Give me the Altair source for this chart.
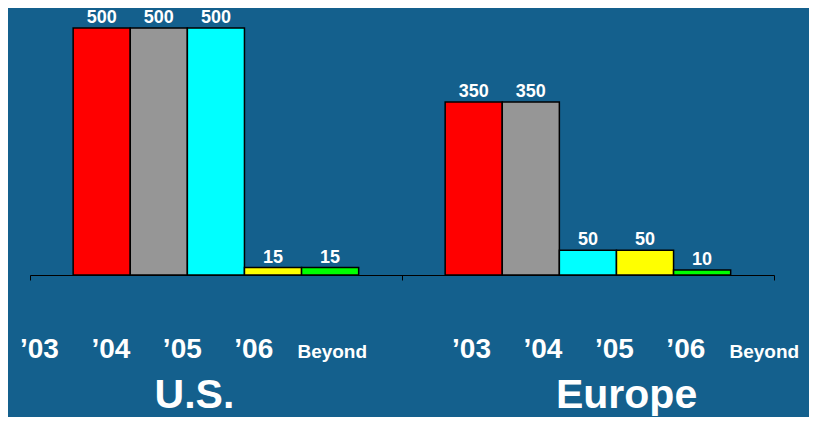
import altair as alt
import pandas as pd

# ---- data ----
regions = ["U.S.", "Europe"]
periods = ["\u201903", "\u201904", "\u201905", "\u201906", "Beyond"]
us_values = [500, 500, 500, 15, 15]
europe_values = [350, 350, 50, 50, 10]
bar_colors = ["#FF0000", "#969696", "#00FFFF", "#FFFF00", "#00FF00"]

# ---- layout constants (in units of one region group) ----
BAR_START = 0.116
BAR_STEP = 0.1535
LABEL_START = {"U.S.": 0.0255, "Europe": 0.187}
LABEL_STEP = 0.192
BEYOND_EXTRA = 0.019
TITLE_OFFSET = 0.4167

rows = []
for g, (region, vals) in enumerate(zip(regions, [us_values, europe_values])):
    for i, (p, v) in enumerate(zip(periods, vals)):
        x0 = g + BAR_START + i * BAR_STEP
        lx = g + LABEL_START[region] + i * LABEL_STEP + (BEYOND_EXTRA if p == "Beyond" else 0)
        rows.append({"region": region, "period": p, "value": v, "base": 0,
                     "x0": x0, "x1": x0 + BAR_STEP, "xc": x0 + BAR_STEP / 2,
                     "lx": lx})
df = pd.DataFrame(rows)

titles = pd.DataFrame({
    "region": regions,
    "tx": [g + LABEL_START[r] + TITLE_OFFSET for g, r in enumerate(regions)],
})

FONT = "Liberation Sans"

xscale = alt.Scale(domain=[0, 2], nice=False, zero=False)
yscale = alt.Scale(domain=[0, 500], nice=False)

bars = alt.Chart(df).mark_rect(stroke="black", strokeWidth=1.5).encode(
    x=alt.X("x0:Q", scale=xscale,
            axis=alt.Axis(values=[0, 1, 2], labels=False, title=None, grid=False,
                          domainColor="black", tickColor="black", tickSize=5,
                          domainWidth=1, tickWidth=1)),
    x2="x1:Q",
    y=alt.Y("value:Q", scale=yscale, axis=None),
    y2="base:Q",
    color=alt.Color("period:N", scale=alt.Scale(domain=periods, range=bar_colors), legend=None),
)

values = alt.Chart(df).mark_text(
    font=FONT, fontWeight="bold", fontSize=18, color="white", dy=-5, baseline="alphabetic"
).encode(
    x=alt.X("xc:Q", scale=xscale),
    y=alt.Y("value:Q", scale=yscale),
    text="value:Q",
)

period_labels = alt.Chart(df).mark_text(
    font=FONT, fontWeight="bold", color="white", baseline="alphabetic", align="center"
).encode(
    x=alt.X("lx:Q", scale=xscale),
    y=alt.value(330),
    text="period:N",
    size=alt.condition("datum.period === 'Beyond'", alt.value(19), alt.value(28)),
)

region_titles = alt.Chart(titles).mark_text(
    font=FONT, fontWeight="bold", fontSize=41, color="white", baseline="alphabetic", align="center"
).encode(
    x=alt.X("tx:Q", scale=xscale),
    y=alt.value(380),
    text="region:N",
)

chart = alt.layer(bars, values, period_labels, region_titles).properties(
    width=744, height=247,
    autosize=alt.AutoSizeParams(type="none"),
    padding={"left": 22, "top": 20, "right": 35, "bottom": 142},
    background="#14608d",
).configure_view(stroke=None)

chart.save("out.html", embed_options={"renderer": "svg", "actions": False})
